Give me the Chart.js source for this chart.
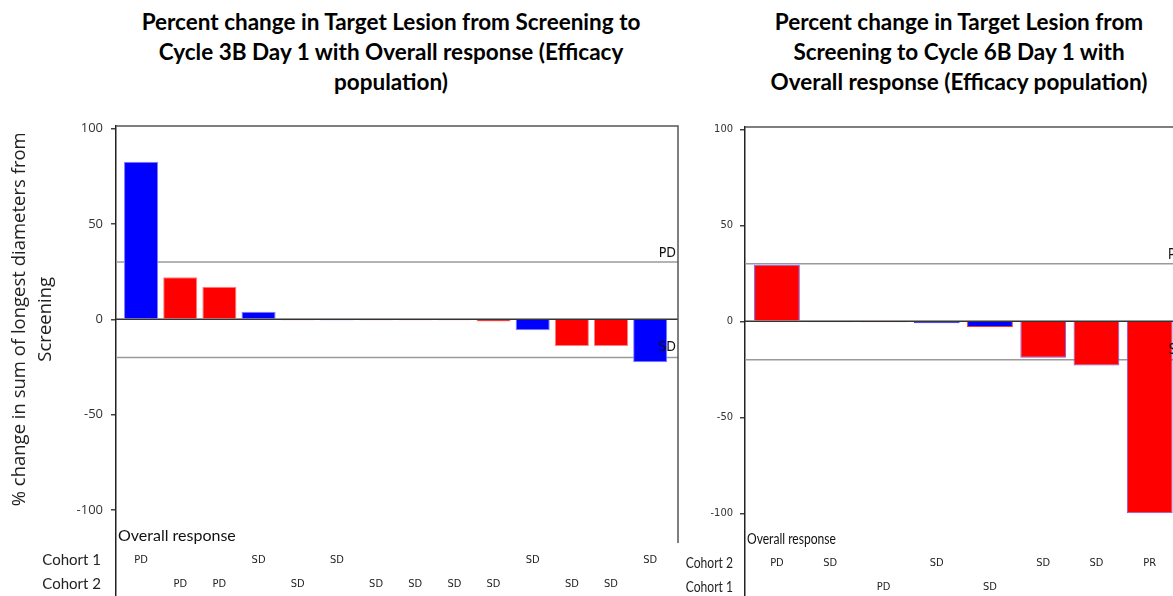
<!DOCTYPE html>
<html>
<head>
<meta charset="utf-8">
<script src="https://cdn.jsdelivr.net/npm/chart.js@4.4.1/dist/chart.umd.min.js"></script>
<style>
  body { margin: 0; background: #fff; }
  #page { position: relative; width: 1173px; height: 596px; overflow: hidden; background: #fff; }
  .title { position: absolute; top: 7px; font-family: Lato, sans-serif; font-weight: bold; font-size: 22.5px; line-height: 30px; text-align: center; color: #000; }
  /* canvases run 24px below the page so the plot can reach the bottom edge */
  .box { position: absolute; top: 0; height: 620px; }
</style>
</head>
<body>
<div id="page">
  <div class="title" style="left:111px; width:560px;">Percent change in Target Lesion from Screening to<br>Cycle 3B Day 1 with Overall response (Efficacy<br>population)</div>
  <div class="title" style="left:729px; width:460px;">Percent change in Target Lesion from<br>Screening to Cycle 6B Day 1 with<br>Overall response (Efficacy population)</div>
  <div class="box" style="left:0; width:680px;"><canvas id="chart3B"></canvas></div>
  <div class="box" style="left:680px; width:520px;"><canvas id="chart6B"></canvas></div>
</div>
<script>
// ---- data ----
var yTicks = [100, 50, 0, -50, -100];
var pdLimit = 30;
var sdLimit = -20;

// Cycle 3B Day 1 (left)
var change3B = [82.5, 22, 17, 4, -0.5, -0.5, -0.5, -0.5, -0.5, -1.2, -5.8, -14, -14, -22.5];
var cohort3B = [1, 2, 2, 1, 2, 1, 2, 2, 2, 2, 1, 2, 2, 1];
var cohort1Resp3B = ['PD', '', '', 'SD', '', 'SD', '', '', '', '', 'SD', '', '', 'SD'];
var cohort2Resp3B = ['', 'PD', 'PD', '', 'SD', '', 'SD', 'SD', 'SD', 'SD', '', 'SD', 'SD', ''];

// Cycle 6B Day 1 (right)
var change6B = [29.5, -0.5, -0.5, -1, -3, -19, -23, -100];
var cohort2Resp6B = ['PD', 'SD', '', 'SD', '', 'SD', 'SD', 'PR'];
var cohort1Resp6B = ['', '', 'PD', '', 'SD', '', '', ''];

// ---- styles ----
var BLUE = '#0000ff', RED = '#ff0000';
var fill3B = cohort3B.map(function (c) { return c === 1 ? BLUE : RED; });
var edge3B = cohort3B.map(function (c) { return c === 1 ? '#7f7fff' : '#ff8080'; });
var fill6B = [RED, '#8888cc', RED, BLUE, BLUE, RED, RED, RED];
var edge6B = ['#7a5cf0', '#8888cc', '#e04040', '#3030ff', '#ff3030', '#7a5cf0', '#7a5cf0', '#7a5cf0'];

function points(vals) {
  return vals.map(function (v, i) { return { x: i, y: v }; });
}

// text squeezed horizontally (the right panel uses a narrow face)
function drawText(ctx, text, x, y, align, sx) {
  ctx.save();
  ctx.translate(x, y);
  ctx.scale(sx, 1);
  ctx.textAlign = align;
  ctx.fillText(text, 0, 0);
  ctx.restore();
}

// reference lines, frame, response rows, axis title
var extras = {
  id: 'extras',
  beforeDatasetsDraw: function (chart, args, o) {
    var ctx = chart.ctx, a = chart.chartArea, y = chart.scales.y;
    ctx.save();
    ctx.strokeStyle = '#9a9a9a';
    ctx.lineWidth = 1.5;
    [pdLimit, sdLimit].forEach(function (v) {
      var py = y.getPixelForValue(v);
      ctx.beginPath(); ctx.moveTo(a.left, py); ctx.lineTo(a.right, py); ctx.stroke();
    });
    // zero line
    ctx.strokeStyle = '#333';
    var z = y.getPixelForValue(0);
    ctx.beginPath(); ctx.moveTo(a.left, z); ctx.lineTo(a.right, z); ctx.stroke();
    ctx.restore();
  },
  afterDatasetsDraw: function (chart, args, o) {
    var ctx = chart.ctx, a = chart.chartArea, x = chart.scales.x, y = chart.scales.y;
    ctx.save();
    // frame (top + right)
    ctx.strokeStyle = '#555';
    ctx.lineWidth = 1.5;
    ctx.beginPath();
    ctx.moveTo(a.left, a.top); ctx.lineTo(a.right, a.top);
    ctx.lineTo(a.right, o.frameBottom);
    ctx.stroke();

    // PD / SD labels
    ctx.fillStyle = '#111';
    ctx.font = o.limitFont;
    ctx.textBaseline = 'bottom';
    drawText(ctx, 'PD', a.right - 2, y.getPixelForValue(pdLimit) - 2, 'right', o.sx);
    drawText(ctx, 'SD', a.right - 2, y.getPixelForValue(sdLimit) - 3, 'right', o.sx);

    // overall response rows
    ctx.textBaseline = 'middle';
    ctx.font = o.headFont;
    drawText(ctx, 'Overall response', a.left + 2, o.headY, 'left', o.sx);
    o.rows.forEach(function (row) {
      ctx.font = o.rowFont;
      ctx.fillStyle = '#222';
      drawText(ctx, row.label, a.left - o.labelGap, row.y, 'right', o.sx);
      ctx.font = o.respFont;
      row.resp.forEach(function (r, i) {
        if (r) drawText(ctx, r, x.getPixelForValue(i), row.y, 'center', 1);
      });
    });

    // y axis title (two lines, centred on the -100..100 span)
    if (o.yTitle) {
      var yc = y.getPixelForValue(0);
      ctx.font = o.yTitleFont;
      ctx.fillStyle = '#222';
      ctx.textAlign = 'center';
      ctx.textBaseline = 'middle';
      o.yTitle.forEach(function (line, k) {
        ctx.save();
        ctx.translate(o.yTitleX[k], yc);
        ctx.rotate(-Math.PI / 2);
        ctx.fillText(line, 0, 0);
        ctx.restore();
      });
    }
    ctx.restore();
  }
};

function makeChart(id, vals, fills, edges, cfg) {
  return new Chart(document.getElementById(id), {
    type: 'bar',
    data: {
      datasets: [{
        data: points(vals),
        backgroundColor: fills,
        borderColor: edges,
        borderWidth: 1,
        barPercentage: 1,
        categoryPercentage: cfg.barFrac
      }]
    },
    options: {
      responsive: true,
      maintainAspectRatio: false,
      animation: false,
      layout: { padding: { top: cfg.top, right: cfg.right, left: 0, bottom: 24 } },
      plugins: {
        legend: { display: false },
        tooltip: { enabled: false },
        extras: cfg.extras
      },
      scales: {
        x: {
          type: 'linear', min: cfg.xMin, max: cfg.xMax, offset: false, grid: { offset: false }, display: false,
          afterBuildTicks: function (s) { s.ticks = vals.map(function (v, i) { return { value: i }; }); }
        },
        y: {
          min: cfg.yMin, max: cfg.yMax,
          afterBuildTicks: function (s) { s.ticks = yTicks.map(function (v) { return { value: v }; }); },
          afterFit: function (s) { s.width = cfg.axisWidth; },
          grid: { drawOnChartArea: false, drawTicks: true, tickLength: 5, color: '#444', lineWidth: 1.5 },
          border: { display: true, color: '#222', width: 1.5 },
          ticks: { padding: cfg.tickPad, color: '#333', font: cfg.tickFont }
        }
      }
    },
    plugins: [extras]
  });
}

makeChart('chart3B', change3B, fill3B, edge3B, {
  barFrac: 0.87, top: 126, right: 2, axisWidth: 116, tickPad: 8,
  xMin: -0.64, xMax: 13.71, yMin: -145, yMax: 101.3,
  tickFont: { family: 'Open Sans', size: 13 },
  extras: {
    sx: 1,
    frameBottom: 543,
    limitFont: "14px 'DejaVu Sans Condensed', sans-serif",
    headFont: '16px Lato, sans-serif', headY: 536,
    rowFont: '15px Lato, sans-serif', labelGap: 15,
    respFont: "11px 'DejaVu Sans Condensed', sans-serif",
    rows: [
      { label: 'Cohort 1', y: 560, resp: cohort1Resp3B },
      { label: 'Cohort 2', y: 584, resp: cohort2Resp3B }
    ],
    yTitle: ['% change in sum of longest diameters from', 'Screening'],
    yTitleX: [20, 46],
    yTitleFont: "18.5px 'Open Sans', sans-serif"
  }
});

makeChart('chart6B', change6B, fill6B, edge6B, {
  barFrac: 0.86, top: 127, right: 13, axisWidth: 65, tickPad: 7,
  xMin: -0.6, xMax: 7.7, yMin: -143.1, yMax: 101.2,
  tickFont: { family: "'DejaVu Sans Condensed', sans-serif", size: 11 },
  extras: {
    sx: 0.78,
    frameBottom: 620,
    limitFont: "16px Lato, sans-serif",
    headFont: '15.5px Lato, sans-serif', headY: 539,
    rowFont: '15.5px Lato, sans-serif', labelGap: 12,
    respFont: "11px 'DejaVu Sans Condensed', sans-serif",
    rows: [
      { label: 'Cohort 2', y: 563, resp: cohort2Resp6B },
      { label: 'Cohort 1', y: 587, resp: cohort1Resp6B }
    ]
  }
});
</script>
</body>
</html>
